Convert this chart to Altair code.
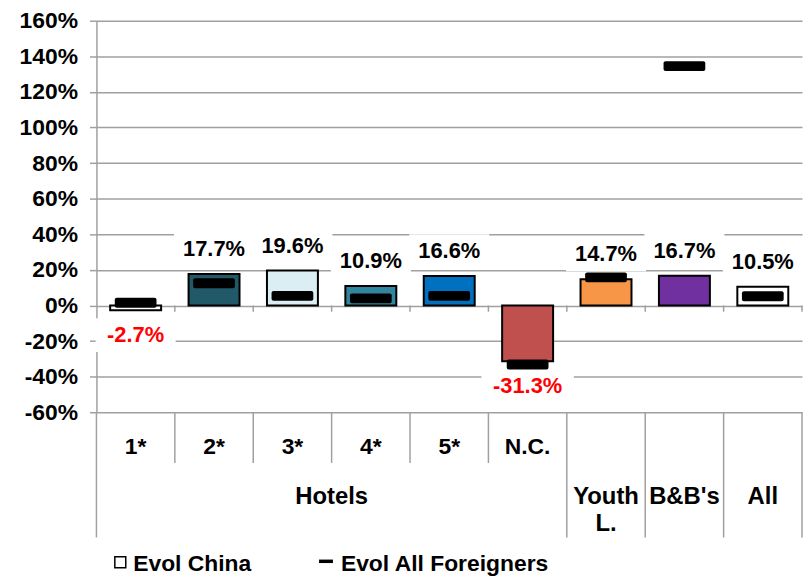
import altair as alt
import pandas as pd

# ---------------- data ----------------
categories = ["1*", "2*", "3*", "4*", "5*", "N.C.", "Youth L.", "B&B's", "All"]
evol_china = [-2.7, 17.7, 19.6, 10.9, 16.6, -31.3, 14.7, 16.7, 10.5]
evol_foreigners = [1.5, 12.5, 5.4, 4.0, 5.4, -33.2, 15.8, 134.5, 5.2]
bar_colors = ["#FFFFFF", "#215968", "#DBEEF4", "#31859C", "#0070C0",
              "#C0504D", "#F79646", "#7030A0", "#FFFFFF"]
hotel_categories = ["1*", "2*", "3*", "4*", "5*", "N.C."]
group_names = ["Hotels", "Youth L.", "B&B's", "All"]
legend_labels = ["Evol China", "Evol All Foreigners"]
y_ticks = [-60, -40, -20, 0, 20, 40, 60, 80, 100, 120, 140, 160]

FONT = "Liberation Sans"
GRID = "#a0a0a0"
W, H = 710, 394

df = pd.DataFrame({"cat": categories, "china": evol_china, "foreign": evol_foreigners})
df["label"] = [f"{v:.1f}%" for v in evol_china]
df["bw"] = [12.5 * len(s) + 18 for s in df["label"]]

xs = alt.Scale(domain=categories, paddingInner=0, paddingOuter=0)
ys = alt.Scale(domain=[-60, 160], nice=False, zero=False)
yaxis = alt.Axis(values=y_ticks, labelExpr="datum.value + '%'", title=None,
                 grid=True, gridColor=GRID, gridWidth=1.5,
                 domainColor=GRID, domainWidth=1.5,
                 tickColor=GRID, tickWidth=1.5, tickSize=7,
                 labelPadding=12, labelFont=FONT, labelFontSize=23,
                 labelFontWeight="bold", labelColor="black",
                 minExtent=89, maxExtent=89)


def X(bp=None):
    if bp is None:
        return alt.X("cat:N", scale=xs, axis=None)
    return alt.X("cat:N", scale=xs, axis=None, bandPosition=bp)


def Y(field):
    return alt.Y(field, scale=ys, axis=yaxis)


base = alt.Chart(df)

pos = base.transform_filter("datum.china >= 0")
neg = base.transform_filter("datum.china < 0")

# white label boxes that interrupt the gridlines
box_pos = pos.mark_tick(color="white", thickness=34, opacity=1, yOffset=-25).encode(
    x=X(), y=Y("china:Q"), size=alt.Size("bw:Q", scale=None))
box_neg = neg.mark_tick(color="white", thickness=34, opacity=1, yOffset=25).encode(
    x=X(), y=Y("china:Q"), size=alt.Size("bw:Q", scale=None))

bars = base.mark_bar(stroke="black", strokeWidth=2,
                     width=alt.RelativeBandSize(0.65)).encode(
    x=X(), y=Y("china:Q"), y2=alt.datum(0),
    color=alt.Color("cat:N", scale=alt.Scale(domain=categories, range=bar_colors), legend=None),
)

foreign = base.mark_tick(color="black", thickness=10, size=42, opacity=1,
                         cornerRadius=2).encode(x=X(), y=Y("foreign:Q"))

txt_kw = dict(font=FONT, fontSize=22, fontWeight="bold", baseline="middle", align="center")
lab_pos = pos.mark_text(dy=-25, color="black", **txt_kw).encode(
    x=X(), y=Y("china:Q"), text="label:N")
lab_neg = neg.mark_text(dy=25, color="#FF0000", **txt_kw).encode(
    x=X(), y=Y("china:Q"), text="label:N")

# zero-line ticks at category boundaries
bdf = pd.DataFrame({"cat": categories[1:]})
zero_ticks = alt.Chart(bdf).mark_rule(color=GRID, strokeWidth=1.5).encode(
    x=X(0), y=Y("z:Q"), y2=alt.datum(-3.5)).transform_calculate(z="0")
end_df = pd.DataFrame({"cat": [categories[-1]]})
zero_end = alt.Chart(end_df).mark_rule(color=GRID, strokeWidth=1.5).encode(
    x=X(1), y=Y("z:Q"), y2=alt.datum(-3.5)).transform_calculate(z="0")

# category table below the plot
short_df = pd.DataFrame({"cat": hotel_categories[1:]})
long_df = pd.DataFrame({"cat": ["1*", "Youth L.", "B&B's", "All"]})
short_rules = alt.Chart(short_df).mark_rule(color=GRID, strokeWidth=1.5).encode(
    x=X(0), y=alt.value(H), y2=alt.value(H + 51))
long_rules = alt.Chart(long_df).mark_rule(color=GRID, strokeWidth=1.5).encode(
    x=X(0), y=alt.value(H), y2=alt.value(H + 126))
end_rule = alt.Chart(end_df).mark_rule(color=GRID, strokeWidth=1.5).encode(
    x=X(1), y=alt.value(H), y2=alt.value(H + 126))

cat_kw = dict(font=FONT, fontSize=23, fontWeight="bold", baseline="middle",
              align="center", color="black")
row1 = alt.Chart(pd.DataFrame({"cat": hotel_categories})).mark_text(**cat_kw).encode(
    x=X(), y=alt.value(H + 35), text="cat:N")

row2_kw = dict(font=FONT, fontSize=24, fontWeight="bold", baseline="alphabetic",
               align="center", color="black")
hotels = alt.Chart(pd.DataFrame({"cat": ["4*"], "t": [group_names[0]]})).mark_text(
    **row2_kw).encode(x=X(0), y=alt.value(H + 92), text="t:N")
others = alt.Chart(pd.DataFrame({"cat": group_names[1:], "t": group_names[1:]})).mark_text(
    lineBreak=" ", lineHeight=27, **row2_kw).encode(x=X(), y=alt.value(H + 92), text="t:N")

# legend
leg_sq = alt.Chart(pd.DataFrame({"t": [legend_labels[0]]})).mark_point(
    shape="square", filled=True, fill="white", stroke="black", strokeWidth=1.5,
    size=121, opacity=1).encode(x=alt.value(24), y=alt.value(H + 151))
leg_dash = alt.Chart(pd.DataFrame({"t": [legend_labels[1]]})).mark_point(
    shape="M-1,-0.25L1,-0.25L1,0.25L-1,0.25Z", filled=True, color="black",
    size=196, opacity=1).encode(x=alt.value(231), y=alt.value(H + 150))
leg_kw = dict(font=FONT, fontSize=23, fontWeight="bold", baseline="middle",
              align="left", color="black")
leg_t1 = alt.Chart(pd.DataFrame({"t": [legend_labels[0]]})).mark_text(**leg_kw).encode(
    x=alt.value(37), y=alt.value(H + 153), text="t:N")
leg_t2 = alt.Chart(pd.DataFrame({"t": [legend_labels[1]]})).mark_text(**leg_kw).encode(
    x=alt.value(246), y=alt.value(H + 153), text="t:N")

chart = alt.layer(
    box_pos, box_neg, bars, foreign, lab_pos, lab_neg, zero_ticks, zero_end,
    short_rules, long_rules, end_rule, row1, hotels, others,
    leg_sq, leg_dash, leg_t1, leg_t2,
).properties(
    width=W, height=H,
    padding={"left": 0, "top": 0, "right": 0, "bottom": 0},
).configure_view(stroke=None)

chart.save("out.html", embed_options={"renderer": "svg", "actions": False})
